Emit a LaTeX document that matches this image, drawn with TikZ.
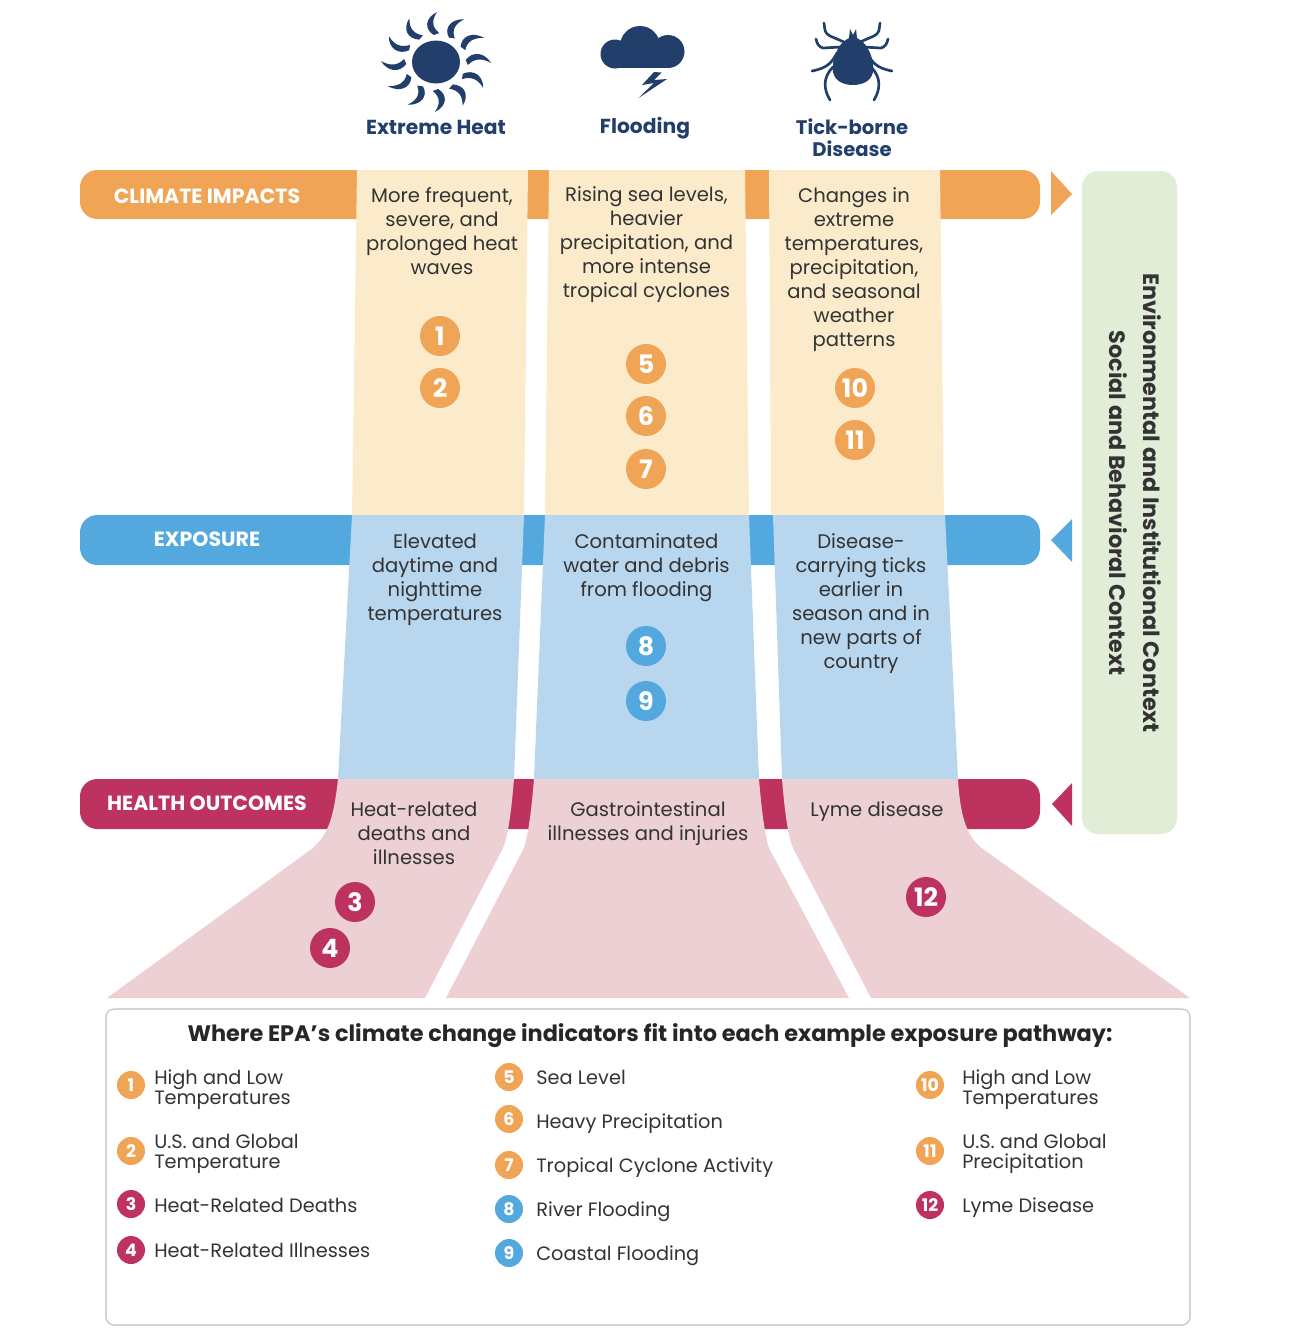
\documentclass[tikz,border=0pt]{standalone}
\usepackage{fontspec}
\setmainfont{Poppins}
\usepackage{xcolor}
\usetikzlibrary{positioning}

\definecolor{impactorange}{HTML}{EFA555}
\definecolor{exposeblue}{HTML}{53A9DD}
\definecolor{healthred}{HTML}{BD325F}
\definecolor{impactpale}{HTML}{FBEBCB}
\definecolor{exposepale}{HTML}{B8D6EE}
\definecolor{healthpale}{HTML}{ECD0D4}
\definecolor{contextgreen}{HTML}{E2EDD8}
\definecolor{iconnavy}{HTML}{223F6C}
\definecolor{bodytext}{HTML}{333333}

\tikzset{
  barlabel/.style={text=white, font=\fontsize{15.4}{17}\selectfont\bfseries},
  coltext/.style={text=bodytext, align=center, font=\fontsize{14.7}{18}\selectfont},
  hazard/.style={text=iconnavy, align=center, font=\fontsize{15.2}{16.5}\selectfont\bfseries},
  tickhazard/.style={text=iconnavy, align=center, font=\fontsize{14.7}{16.5}\selectfont\bfseries},
  badge/.style={circle, fill=#1, text=white, minimum size=30pt, inner sep=0pt, font=\fontsize{19}{19}\selectfont\bfseries},
  keybadge/.style={circle, fill=#1, text=white, minimum size=21pt, inner sep=0pt, font=\fontsize{13}{13}\selectfont\bfseries},
  keytext/.style={anchor=west, inner sep=0pt, text=bodytext, align=left, font=\fontsize{14.5}{15}\selectfont},
  contexttext/.style={rotate=-90, text=bodytext, font=\fontsize{16.7}{18}\selectfont\bfseries},
  tickleg/.style={draw=iconnavy, line width=2pt, line cap=round, line join=round}
}

\begin{document}
\begin{tikzpicture}[x=0.75pt, y=-0.75pt]
\useasboundingbox (0,0) rectangle (1300,1340);

% Sun icon
\fill[iconnavy] (436,62) ellipse (24 and 21.5);
\foreach \a in {0,30,...,330} {
  \fill[iconnavy, shift={(436,62)}, xscale=1.1, rotate=\a]
    (-2,-27) .. controls (-11,-33) and (-10,-44) .. (1,-50)
    .. controls (-4,-42) and (-4,-35) .. (3,-29) -- cycle;
}

% Cloud icon
\fill[iconnavy] (615,54) circle (14.5);
\fill[iconnavy] (640,46) circle (20);
\fill[iconnavy] (668,51.5) circle (16.5);
\fill[iconnavy] (615,44) rectangle (668,68);
\fill[iconnavy] (654,72) -- (642,85) -- (654,83) -- (638.5,98) -- (667,79) -- (654,80) -- (661.5,72.5) -- cycle;

% Tick icon
\fill[iconnavy] (853,37) .. controls (868,39) and (875,62) .. (873,72)
  .. controls (871,82) and (861,85) .. (853,85)
  .. controls (845,85) and (835,82) .. (833,72)
  .. controls (831,62) and (838,39) .. (853,37) -- cycle;
\fill[iconnavy] (849,38) -- (850,29) -- (853,35) -- (856,29) -- (857,38) -- cycle;
\foreach \s in {1,-1} {
  \begin{scope}[shift={(852,0)}, xscale=\s]
    \draw[tickleg] (-8,42) -- (-22,36) .. controls (-28,33) and (-27,29) .. (-28,23);
    \draw[tickleg] (-11,47) -- (-29,48) .. controls (-33,47) and (-35,44) .. (-36,39);
    \draw[tickleg] (-15,53) .. controls (-20,62) and (-24,68) .. (-40,71);
    \draw[tickleg] (-19,67) .. controls (-30,78) and (-28,90) .. (-22,100);
  \end{scope}
}

% Hazard names
\node[hazard] (heatname) at (436,127.5) {Extreme Heat};
\node[hazard] (floodname) at (645,128) {Flooding};
\node[tickhazard] (tickname) at (852,137.5) {Tick-borne\\Disease};

% Bars
\fill[impactorange, rounded corners=13pt] (80,170) rectangle (1040,219);
\fill[exposeblue, rounded corners=13pt] (80,515) rectangle (1040,565);
\fill[healthred, rounded corners=13pt] (80,779) rectangle (1040,829);

\node[barlabel] (impactbar) at (207,196) {CLIMATE IMPACTS};
\node[barlabel] (exposebar) at (207,539.5) {EXPOSURE};
\node[barlabel] (healthbar) at (207,803.5) {HEALTH OUTCOMES};

% Arrow heads next to the bars
\fill[impactorange] (1051,171) -- (1072,194) -- (1051,215) -- cycle;
\fill[exposeblue] (1072,519) -- (1051,540) -- (1072,562) -- cycle;
\fill[healthred] (1072,783) -- (1052,804) -- (1072,826) -- cycle;

% Climate impact columns
\fill[impactpale] (357,170) -- (528,170) -- (524,515) -- (352,515) -- cycle;
\fill[impactpale] (549,170) -- (745,170) -- (749,515) -- (545,515) -- cycle;
\fill[impactpale] (769,170) -- (940,170) -- (944,515) -- (771,515) -- cycle;

% Exposure columns
\fill[exposepale] (352,515) -- (524,515) -- (514,779) -- (338,779) -- cycle;
\fill[exposepale] (545,515) -- (749,515) -- (759,779) -- (534,779) -- cycle;
\fill[exposepale] (773,515) -- (945,515) -- (958,779) -- (782,779) -- cycle;

% Health outcome columns
\fill[healthpale] (338,779) -- (514,779) .. controls (511,815) and (508,835) .. (503,848)
  -- (425,998) -- (107,998) -- (313,848) .. controls (326,835) and (333,825) .. (338,779) -- cycle;
\fill[healthpale] (534,779) -- (759,779) .. controls (762,815) and (765,835) .. (769,848)
  -- (849,998) -- (446,998) -- (524,848) .. controls (528,835) and (531,815) .. (534,779) -- cycle;
\fill[healthpale] (782,779) -- (958,779) .. controls (960,812) and (965,836) .. (983,849)
  -- (1190,998) -- (871,998) -- (793,848) .. controls (788,835) and (785,815) .. (782,779) -- cycle;

% Column texts
\node[coltext] (impactheat) at (442,231) {More frequent,\\severe, and\\prolonged heat\\waves};
\node[coltext] (impactflood) at (646.5,245) {Rising sea levels,\\heavier\\precipitation, and\\more intense\\tropical cyclones};
\node[coltext] (impacttick) at (854,270) {Changes in\\extreme\\temperatures,\\precipitation,\\and seasonal\\weather\\patterns};
\node[coltext] (exposeheat) at (435,579.5) {Elevated\\daytime and\\nighttime\\temperatures};
\node[coltext] (exposeflood) at (646.5,567.5) {Contaminated\\water and debris\\from flooding};
\node[coltext] (exposetick) at (861,604) {Disease-\\carrying ticks\\earlier in\\season and in\\new parts of\\country};
\node[coltext] (healthheat) at (414,833) {Heat-related\\deaths and\\illnesses};
\node[coltext] (healthflood) at (648,824) {Gastrointestinal\\illnesses and injuries};
\node[coltext] (healthtick) at (877,812) {Lyme disease};

% Numbered badges on the columns
\foreach \x/\y/\n in {440/336/1, 440/388/2, 646/364/5, 646/416/6, 646/469/7, 855/388/10, 855/440/11}
  \node[badge=impactorange] (badge\n) at (\x,\y) {\n};
\foreach \x/\y/\n in {646/646/8, 646/701/9}
  \node[badge=exposeblue] (badge\n) at (\x,\y) {\n};
\foreach \x/\y/\n in {355/902/3, 330/948/4, 926/897/12}
  \node[badge=healthred] (badge\n) at (\x,\y) {\n};

% Context panel
\fill[contextgreen, rounded corners=12pt] (1082,171) rectangle (1177,834);
\node[contexttext] (envcontext) at (1152,503) {Environmental and Institutional Context};
\node[contexttext] (soccontext) at (1118,503) {Social and Behavioral Context};

% Legend
\draw[draw=black!25, line width=0.8pt, rounded corners=6pt] (106,1009) rectangle (1190,1325);
\node[text=black!85, font=\fontsize{16.8}{18}\selectfont\bfseries] (keytitle) at (650,1036) {Where EPA's climate change indicators fit into each example exposure pathway:};

\foreach \x/\y/\n/\c in {131/1085/1/impactorange, 131/1151/2/impactorange, 131/1204/3/healthred, 131/1250/4/healthred,
  509/1077/5/impactorange, 509/1119/6/impactorange, 509/1165/7/impactorange, 509/1209/8/exposeblue, 509/1253/9/exposeblue,
  930/1085/10/impactorange, 930/1151/11/impactorange, 930/1205/12/healthred}
  \node[keybadge=\c] (key\n) at (\x,\y) {\n};

\node[keytext] (label1) at (154,1090) {High and Low\\Temperatures};
\node[keytext] (label2) at (154,1154) {U.S. and Global\\Temperature};
\node[keytext] (label3) at (154,1205) {Heat-Related Deaths};
\node[keytext] (label4) at (154,1250) {Heat-Related Illnesses};
\node[keytext] (label5) at (536,1077) {Sea Level};
\node[keytext] (label6) at (536,1124) {Heavy Precipitation};
\node[keytext] (label7) at (536,1168) {Tropical Cyclone Activity};
\node[keytext] (label8) at (536,1212) {River Flooding};
\node[keytext] (label9) at (536,1256) {Coastal Flooding};
\node[keytext] (label10) at (962,1090) {High and Low\\Temperatures};
\node[keytext] (label11) at (962,1154) {U.S. and Global\\Precipitation};
\node[keytext] (label12) at (962,1208) {Lyme Disease};

\end{tikzpicture}
\end{document}
